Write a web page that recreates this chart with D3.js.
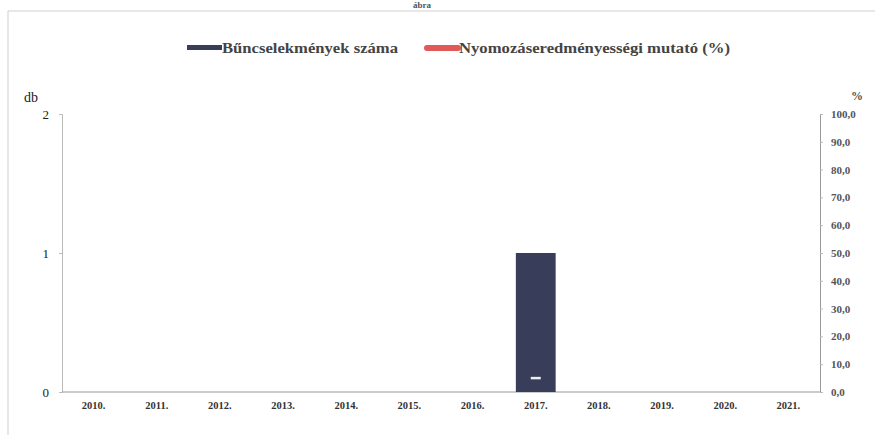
<!DOCTYPE html>
<html><head><meta charset="utf-8">
<script src="https://cdn.jsdelivr.net/npm/d3@7"></script>
<style>body{margin:0;background:#fff}svg{display:block}text{font-family:"Liberation Serif","Times New Roman",serif}</style>
</head><body><div id="c"></div>
<script>
const years = ["2010.","2011.","2012.","2013.","2014.","2015.","2016.","2017.","2018.","2019.","2020.","2021."];
const crimeCounts = [0,0,0,0,0,0,0,1,0,0,0,0];
const clearanceRate = [null,null,null,null,null,null,null,5,null,null,null,null];
const leftTicks = [0,1,2];
const rightTicks = [0,10,20,30,40,50,60,70,80,90,100];
const seriesNames = ["Bűncselekmények száma","Nyomozáseredményességi mutató (%)"];

const W=875,H=435;
const svg=d3.select("#c").append("svg").attr("width",W).attr("height",H);
const m={l:62,r:820,t:114,b:392};

// frame
svg.append("line").attr("x1",8).attr("x2",875).attr("y1",11).attr("y2",11).attr("stroke","#cfcfcf");
svg.append("line").attr("x1",8).attr("x2",8).attr("y1",11).attr("y2",435).attr("stroke","#cfcfcf");
svg.append("text").attr("x",422).attr("y",8).attr("text-anchor","middle").attr("font-size",9).attr("font-weight","bold").attr("fill","#555").text("ábra");

const x=d3.scaleBand().domain(years).range([m.l,m.r]).paddingInner(0.37).paddingOuter(0.185);
const y=d3.scaleLinear().domain([0,2]).range([m.b,m.t]);
const y2=d3.scaleLinear().domain([0,100]).range([m.b,m.t]);

// axes
const ax=svg.append("g").attr("transform",`translate(${m.l},0)`).call(d3.axisLeft(y).tickValues(leftTicks).tickFormat(d3.format("d")).tickSize(3).tickPadding(10));
ax.select(".domain").attr("stroke","#bbb");
ax.selectAll(".tick line").attr("stroke","#bbb");
ax.selectAll("text").attr("font-size",13).attr("fill","#222");

const ar=svg.append("g").attr("transform",`translate(${m.r},0)`).call(d3.axisRight(y2).tickValues(rightTicks).tickFormat(d=>d3.format(".1f")(d).replace(".",",")).tickSize(3).tickPadding(8));
ar.select(".domain").attr("stroke","#999");
ar.selectAll(".tick line").attr("stroke","#bbb");
ar.selectAll("text").attr("font-size",11).attr("font-weight","bold").attr("fill","#555");

const axb=svg.append("g").attr("transform",`translate(0,${m.b})`).call(d3.axisBottom(x).tickSize(0).tickPadding(10));
axb.select(".domain").attr("stroke","#999").attr("d",`M${m.l},0H${m.r}`);
axb.selectAll("text").attr("font-size",10.5).attr("font-weight","bold").attr("fill","#333");

svg.append("text").attr("x",24).attr("y",102).attr("font-size",14).attr("fill","#222").text("db");
svg.append("text").attr("x",851).attr("y",100).attr("font-size",12).attr("font-weight","bold").attr("fill","#555").text("%");

// bars
svg.selectAll("rect.bar").data(years.map((d,i)=>({d,v:crimeCounts[i]})).filter(o=>o.v>0)).join("rect")
 .attr("class","bar").attr("x",o=>x(o.d)).attr("width",x.bandwidth()).attr("y",o=>y(o.v)).attr("height",o=>y(0)-y(o.v)).attr("fill","#383d5a");

// line series marker(s)
const pts=years.map((d,i)=>({d,v:clearanceRate[i]})).filter(o=>o.v!=null);
svg.selectAll("line.pt").data(pts).join("line").attr("class","pt")
 .attr("x1",o=>x(o.d)+x.bandwidth()/2-5).attr("x2",o=>x(o.d)+x.bandwidth()/2+5)
 .attr("y1",o=>y2(o.v)).attr("y2",o=>y2(o.v)).attr("stroke","#eee").attr("stroke-width",2.5);
svg.append("path").datum(years.map((d,i)=>({d,v:clearanceRate[i]}))).attr("fill","none").attr("stroke","#e05a5a")
 .attr("d",d3.line().defined(o=>o.v!=null).x(o=>x(o.d)+x.bandwidth()/2).y(o=>y2(o.v)));

// legend
const lg=svg.append("g");
lg.append("rect").attr("x",187).attr("y",45).attr("width",35).attr("height",5).attr("fill","#383d5a");
lg.append("text").attr("x",222).attr("y",53).attr("font-size",15).attr("font-weight","bold").attr("fill","#444").attr("textLength",176).attr("lengthAdjust","spacingAndGlyphs").text(seriesNames[0]);
lg.append("line").attr("x1",427).attr("x2",458).attr("y1",48).attr("y2",48).attr("stroke","#e05a5a").attr("stroke-width",6).attr("stroke-linecap","round");
lg.append("text").attr("x",459).attr("y",53).attr("font-size",15).attr("font-weight","bold").attr("fill","#444").attr("textLength",271).attr("lengthAdjust","spacingAndGlyphs").text(seriesNames[1]);
</script></body></html>
